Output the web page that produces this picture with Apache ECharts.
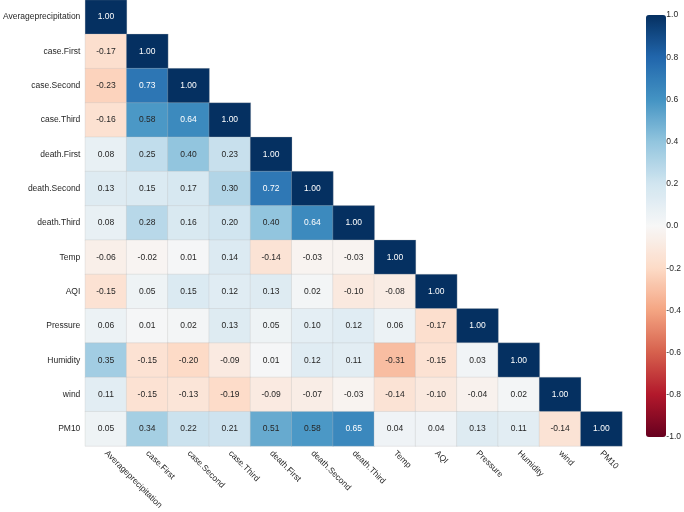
<!DOCTYPE html>
<html><head><meta charset="utf-8">
<script src="https://cdn.jsdelivr.net/npm/echarts@6/dist/echarts.min.js"></script>
<style>html,body{margin:0;padding:0;background:#fff}#c{width:684px;height:512px}</style>
</head><body><div id="c"></div>
<script>
const labels = ['Averageprecipitation','case.First','case.Second','case.Third','death.First','death.Second','death.Third','Temp','AQI','Pressure','Humidity','wind','PM10'];
const row0 = [1.00];
const row1 = [-0.17, 1.00];
const row2 = [-0.23, 0.73, 1.00];
const row3 = [-0.16, 0.58, 0.64, 1.00];
const row4 = [0.08, 0.25, 0.40, 0.23, 1.00];
const row5 = [0.13, 0.15, 0.17, 0.30, 0.72, 1.00];
const row6 = [0.08, 0.28, 0.16, 0.20, 0.40, 0.64, 1.00];
const row7 = [-0.06, -0.02, 0.01, 0.14, -0.14, -0.03, -0.03, 1.00];
const row8 = [-0.15, 0.05, 0.15, 0.12, 0.13, 0.02, -0.10, -0.08, 1.00];
const row9 = [0.06, 0.01, 0.02, 0.13, 0.05, 0.10, 0.12, 0.06, -0.17, 1.00];
const row10 = [0.35, -0.15, -0.20, -0.09, 0.01, 0.12, 0.11, -0.31, -0.15, 0.03, 1.00];
const row11 = [0.11, -0.15, -0.13, -0.19, -0.09, -0.07, -0.03, -0.14, -0.10, -0.04, 0.02, 1.00];
const row12 = [0.05, 0.34, 0.22, 0.21, 0.51, 0.58, 0.65, 0.04, 0.04, 0.13, 0.11, -0.14, 1.00];
const rows = [row0,row1,row2,row3,row4,row5,row6,row7,row8,row9,row10,row11,row12];
const rdbu = ['#67001f','#b2182b','#d6604d','#f4a582','#fddbc7','#f7f7f7','#d1e5f0','#92c5de','#4393c3','#2166ac','#053061'];

const data = [];
rows.forEach((r, yi) => r.forEach((v, xi) => data.push({
  value: [xi, yi, v],
  label: {color: Math.abs(v) >= 0.6 ? '#ffffff' : '#262626'}
})));

const FONT = 'Liberation Sans, Arial, sans-serif';
const chart = echarts.init(document.getElementById('c'));
chart.setOption({
  animation: false,
  backgroundColor: '#fff',
  grid: [
    {left: 82, top: 0, width: 540, height: 452},
    {left: 646, top: 15, width: 20, height: 422}
  ],
  xAxis: [
    {type: 'category', data: labels, gridIndex: 0,
     axisLine: {show: false}, axisTick: {show: false}, splitLine: {show: false},
     axisLabel: {rotate: -45, fontSize: 8.5, color: '#262626', fontFamily: FONT, margin: 6, interval: 0}},
    {type: 'value', gridIndex: 1, show: false, min: 0, max: 1}
  ],
  yAxis: [
    {type: 'category', data: labels, inverse: true, gridIndex: 0,
     axisLine: {show: false}, axisTick: {show: false}, splitLine: {show: false},
     axisLabel: {fontSize: 8.5, color: '#262626', fontFamily: FONT, margin: 5, interval: 0}},
    {type: 'value', gridIndex: 1, min: -1, max: 1, interval: 0.2, position: 'right',
     axisLine: {show: false}, axisTick: {show: false}, splitLine: {show: false},
     axisLabel: {fontSize: 8.5, color: '#262626', fontFamily: FONT, margin: 3,
       formatter: v => v.toFixed(1)}}
  ],
  visualMap: {
    type: 'continuous', min: -1, max: 1, seriesIndex: 0,
    left: 646, top: 15, itemWidth: 20, itemHeight: 422, padding: 0,
    calculable: false, text: null, showLabel: false,
    inRange: {color: rdbu}
  },
  series: [{
    type: 'heatmap', xAxisIndex: 0, yAxisIndex: 0, data: data,
    itemStyle: {borderColor: 'rgba(190,190,190,0.6)', borderWidth: 0.5},
    label: {show: true, fontSize: 8.5, fontFamily: FONT,
      formatter: p => p.value[2].toFixed(2)},
    emphasis: {disabled: true}
  }]
});
</script></body></html>
